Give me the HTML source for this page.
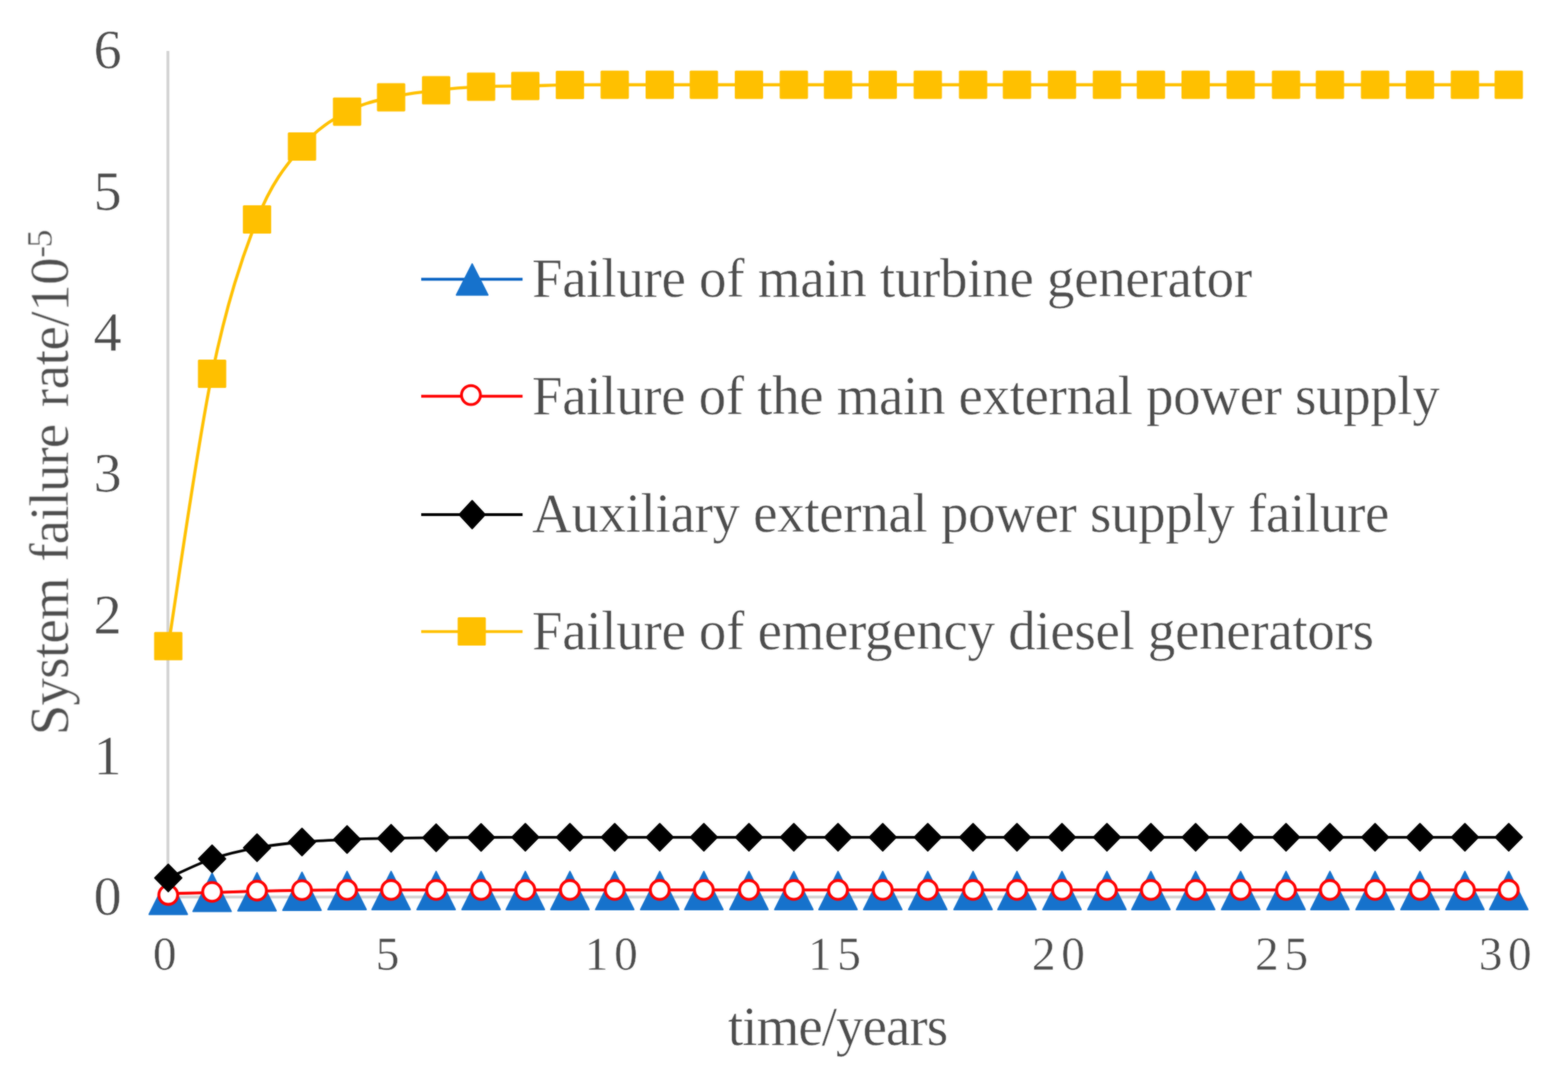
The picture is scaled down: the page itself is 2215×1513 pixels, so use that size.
<!DOCTYPE html>
<html lang="en"><head><meta charset="utf-8"><title>System failure rate over time</title>
<style>
html,body{margin:0;padding:0;background:#fff;}
body{width:2215px;height:1513px;overflow:hidden;}
svg{display:block;}
text{font-family:"Liberation Serif",serif;fill:#4c4c4c;stroke:#fff;stroke-width:0.5px;}
.yt{font-size:79px;text-anchor:middle;}
.xt{font-size:66.7px;}
.lg{font-size:77.5px;}
.ti{font-size:77.5px;}
</style></head><body>
<svg width="2215" height="1513" viewBox="0 0 2215 1513">
<rect width="2215" height="1513" fill="#fff"/>
<defs>
<path id="tri" d="M0 -26.4L27 27.4H-27Z" fill="#1672cc" stroke="#1672cc" stroke-width="2" stroke-linejoin="round"/>
<circle id="cir" r="13.3" fill="#fff" stroke="#ff0000" stroke-width="4.1"/>
<path id="dia" d="M0 -19.3L19 0L0 19.3L-19 0Z" fill="#000000" stroke="#000000" stroke-width="2" stroke-linejoin="round"/>
<rect id="sq" x="-20" y="-20" width="40" height="40" rx="1.6" fill="#ffc000"/>
<filter id="soft" x="0" y="0" width="2215" height="1513" filterUnits="userSpaceOnUse" color-interpolation-filters="sRGB"><feGaussianBlur stdDeviation="1" result="b"/><feComposite in="SourceGraphic" in2="b" operator="arithmetic" k1="0" k2="0.45" k3="0.55" k4="0"/></filter>
</defs>
<g filter="url(#soft)">
<g id="axes" stroke="#d2d2d2" stroke-width="4" fill="none">
<path d="M237.2 1267.2H2131.3"/>
<path d="M237.2 72V1267.2"/>
</g>
<g id="s-blue">
<path d="M237.7 1262.4C248 1262.2 278.7 1261.6 299.6 1261C320.5 1260.4 341.9 1259.5 363.1 1259C384.3 1258.5 405.4 1258.1 426.6 1257.8C447.8 1257.5 469.3 1257.4 490.3 1257.3C511.3 1257.2 531.5 1257.3 552.5 1257.3H616.1H679.6H742.1H805.1H868.4H932H994.3H1058H1121.4H1183.8H1247H1310.6H1374.6H1436.6H1500.2H1563.7H1625.8H1689H1752.6H1816.7H1878.7H1942.5H2005.9H2069.4H2131.3" fill="none" stroke="#0560c2" stroke-width="3" stroke-linecap="round" stroke-linejoin="round"/>
<use href="#tri" x="237.7" y="1264.3"/>
<use href="#tri" x="299.6" y="1260.2"/>
<use href="#tri" x="363.1" y="1259.3"/>
<use href="#tri" x="426.6" y="1258.6"/>
<use href="#tri" x="490.3" y="1257.5"/>
<use href="#tri" x="552.5" y="1257.5"/>
<use href="#tri" x="616.1" y="1257.5"/>
<use href="#tri" x="679.6" y="1257.5"/>
<use href="#tri" x="742.1" y="1257.5"/>
<use href="#tri" x="805.1" y="1257.5"/>
<use href="#tri" x="868.4" y="1257.5"/>
<use href="#tri" x="932" y="1257.5"/>
<use href="#tri" x="994.3" y="1257.5"/>
<use href="#tri" x="1058" y="1257.5"/>
<use href="#tri" x="1121.4" y="1257.5"/>
<use href="#tri" x="1183.8" y="1257.5"/>
<use href="#tri" x="1247" y="1257.5"/>
<use href="#tri" x="1310.6" y="1257.5"/>
<use href="#tri" x="1374.6" y="1257.5"/>
<use href="#tri" x="1436.6" y="1257.5"/>
<use href="#tri" x="1500.2" y="1257.5"/>
<use href="#tri" x="1563.7" y="1257.5"/>
<use href="#tri" x="1625.8" y="1257.5"/>
<use href="#tri" x="1689" y="1257.5"/>
<use href="#tri" x="1752.6" y="1257.5"/>
<use href="#tri" x="1816.7" y="1257.5"/>
<use href="#tri" x="1878.7" y="1257.5"/>
<use href="#tri" x="1942.5" y="1257.5"/>
<use href="#tri" x="2005.9" y="1257.5"/>
<use href="#tri" x="2069.4" y="1257.5"/>
<use href="#tri" x="2131.3" y="1257.5"/>
</g>
<g id="s-red">
<path d="M237.7 1262.4C248 1262.2 278.7 1261.6 299.6 1261C320.5 1260.4 341.9 1259.5 363.1 1259C384.3 1258.5 405.4 1258.1 426.6 1257.8C447.8 1257.5 469.3 1257.4 490.3 1257.3C511.3 1257.2 531.5 1257.3 552.5 1257.3H616.1H679.6H742.1H805.1H868.4H932H994.3H1058H1121.4H1183.8H1247H1310.6H1374.6H1436.6H1500.2H1563.7H1625.8H1689H1752.6H1816.7H1878.7H1942.5H2005.9H2069.4H2131.3" fill="none" stroke="#ff0000" stroke-width="4.1" stroke-linecap="round" stroke-linejoin="round"/>
<use href="#cir" x="237.7" y="1264.3"/>
<use href="#cir" x="299.6" y="1260"/>
<use href="#cir" x="363.1" y="1258.2"/>
<use href="#cir" x="426.6" y="1257.5"/>
<use href="#cir" x="490.3" y="1257.2"/>
<use href="#cir" x="552.5" y="1257.2"/>
<use href="#cir" x="616.1" y="1257.2"/>
<use href="#cir" x="679.6" y="1257.2"/>
<use href="#cir" x="742.1" y="1257.2"/>
<use href="#cir" x="805.1" y="1257.2"/>
<use href="#cir" x="868.4" y="1257.2"/>
<use href="#cir" x="932" y="1257.2"/>
<use href="#cir" x="994.3" y="1257.2"/>
<use href="#cir" x="1058" y="1257.2"/>
<use href="#cir" x="1121.4" y="1257.2"/>
<use href="#cir" x="1183.8" y="1257.2"/>
<use href="#cir" x="1247" y="1257.2"/>
<use href="#cir" x="1310.6" y="1257.2"/>
<use href="#cir" x="1374.6" y="1257.2"/>
<use href="#cir" x="1436.6" y="1257.2"/>
<use href="#cir" x="1500.2" y="1257.2"/>
<use href="#cir" x="1563.7" y="1257.2"/>
<use href="#cir" x="1625.8" y="1257.2"/>
<use href="#cir" x="1689" y="1257.2"/>
<use href="#cir" x="1752.6" y="1257.2"/>
<use href="#cir" x="1816.7" y="1257.2"/>
<use href="#cir" x="1878.7" y="1257.2"/>
<use href="#cir" x="1942.5" y="1257.2"/>
<use href="#cir" x="2005.9" y="1257.2"/>
<use href="#cir" x="2069.4" y="1257.2"/>
<use href="#cir" x="2131.3" y="1257.2"/>
</g>
<g id="s-black">
<path d="M237.7 1240.3C248 1235.8 278.7 1220.3 299.6 1213.2C320.5 1206.1 341.9 1201.5 363.1 1197.6C384.3 1193.6 405.4 1191.5 426.6 1189.5C447.8 1187.5 469.3 1186.8 490.3 1185.9C511.3 1185 531.5 1184.6 552.5 1184.2C573.5 1183.8 594.9 1183.6 616.1 1183.4C637.3 1183.2 658.6 1183.1 679.6 1183C700.6 1182.9 721.2 1182.8 742.1 1182.8H805.1H868.4H932H994.3H1058H1121.4H1183.8H1247H1310.6H1374.6H1436.6H1500.2H1563.7H1625.8H1689H1752.6H1816.7H1878.7H1942.5H2005.9H2069.4H2131.3" fill="none" stroke="#000000" stroke-width="3.8" stroke-linecap="round" stroke-linejoin="round"/>
<use href="#dia" x="237.7" y="1240.3"/>
<use href="#dia" x="299.6" y="1213.2"/>
<use href="#dia" x="363.1" y="1197.6"/>
<use href="#dia" x="426.6" y="1189.5"/>
<use href="#dia" x="490.3" y="1185.9"/>
<use href="#dia" x="552.5" y="1184.2"/>
<use href="#dia" x="616.1" y="1183.4"/>
<use href="#dia" x="679.6" y="1183"/>
<use href="#dia" x="742.1" y="1182.8"/>
<use href="#dia" x="805.1" y="1182.8"/>
<use href="#dia" x="868.4" y="1182.8"/>
<use href="#dia" x="932" y="1182.8"/>
<use href="#dia" x="994.3" y="1182.8"/>
<use href="#dia" x="1058" y="1182.8"/>
<use href="#dia" x="1121.4" y="1182.8"/>
<use href="#dia" x="1183.8" y="1182.8"/>
<use href="#dia" x="1247" y="1182.8"/>
<use href="#dia" x="1310.6" y="1182.8"/>
<use href="#dia" x="1374.6" y="1182.8"/>
<use href="#dia" x="1436.6" y="1182.8"/>
<use href="#dia" x="1500.2" y="1182.8"/>
<use href="#dia" x="1563.7" y="1182.8"/>
<use href="#dia" x="1625.8" y="1182.8"/>
<use href="#dia" x="1689" y="1182.8"/>
<use href="#dia" x="1752.6" y="1182.8"/>
<use href="#dia" x="1816.7" y="1182.8"/>
<use href="#dia" x="1878.7" y="1182.8"/>
<use href="#dia" x="1942.5" y="1182.8"/>
<use href="#dia" x="2005.9" y="1182.8"/>
<use href="#dia" x="2069.4" y="1182.8"/>
<use href="#dia" x="2131.3" y="1182.8"/>
</g>
<g id="s-yellow">
<path d="M237.7 912.8C248 848.7 278.7 628.5 299.6 528C320.5 427.5 341.9 363.5 363.1 310C384.3 256.5 405.4 232.4 426.6 207C447.8 181.6 469.3 169.3 490.3 157.7C511.3 146.1 531.5 142.4 552.5 137.4C573.5 132.4 594.9 130 616.1 127.5C637.3 125 658.6 123.4 679.6 122.4C700.6 121.4 721.2 121.8 742.1 121.4C763 121 784.1 120.2 805.1 119.9C826.1 119.6 847.2 119.7 868.4 119.7H932H994.3H1058H1121.4H1183.8H1247H1310.6H1374.6H1436.6H1500.2H1563.7H1625.8H1689H1752.6H1816.7H1878.7H1942.5H2005.9H2069.4H2131.3" fill="none" stroke="#ffc000" stroke-width="4.4" stroke-linecap="round" stroke-linejoin="round"/>
<use href="#sq" x="237.7" y="912.8"/>
<use href="#sq" x="299.6" y="528"/>
<use href="#sq" x="363.1" y="310"/>
<use href="#sq" x="426.6" y="207"/>
<use href="#sq" x="490.3" y="157.7"/>
<use href="#sq" x="552.5" y="137.4"/>
<use href="#sq" x="616.1" y="127.5"/>
<use href="#sq" x="679.6" y="122.4"/>
<use href="#sq" x="742.1" y="121.4"/>
<use href="#sq" x="805.1" y="119.9"/>
<use href="#sq" x="868.4" y="119.7"/>
<use href="#sq" x="932" y="119.7"/>
<use href="#sq" x="994.3" y="119.7"/>
<use href="#sq" x="1058" y="119.7"/>
<use href="#sq" x="1121.4" y="119.7"/>
<use href="#sq" x="1183.8" y="119.7"/>
<use href="#sq" x="1247" y="119.7"/>
<use href="#sq" x="1310.6" y="119.7"/>
<use href="#sq" x="1374.6" y="119.7"/>
<use href="#sq" x="1436.6" y="119.7"/>
<use href="#sq" x="1500.2" y="119.7"/>
<use href="#sq" x="1563.7" y="119.7"/>
<use href="#sq" x="1625.8" y="119.7"/>
<use href="#sq" x="1689" y="119.7"/>
<use href="#sq" x="1752.6" y="119.7"/>
<use href="#sq" x="1816.7" y="119.7"/>
<use href="#sq" x="1878.7" y="119.7"/>
<use href="#sq" x="1942.5" y="119.7"/>
<use href="#sq" x="2005.9" y="119.7"/>
<use href="#sq" x="2069.4" y="119.7"/>
<use href="#sq" x="2131.3" y="119.7"/>
</g>
<g id="yticks">
<text class="yt" x="152" y="1292.3">0</text>
<text class="yt" x="152" y="1093">1</text>
<text class="yt" x="152" y="893.6">2</text>
<text class="yt" x="152" y="694.2">3</text>
<text class="yt" x="152" y="494.9">4</text>
<text class="yt" x="152" y="295.5">5</text>
<text class="yt" x="152" y="96.2">6</text>
</g>
<g id="xticks">
<text class="xt" x="236.7" y="1370" text-anchor="middle" letter-spacing="8">0</text>
<text class="xt" x="551.5" y="1370" text-anchor="middle" letter-spacing="8">5</text>
<text class="xt" x="867.4" y="1370" text-anchor="middle" letter-spacing="8">10</text>
<text class="xt" x="1182.8" y="1370" text-anchor="middle" letter-spacing="8">15</text>
<text class="xt" x="1499.2" y="1370" text-anchor="middle" letter-spacing="8">20</text>
<text class="xt" x="1814.4" y="1370" text-anchor="middle" letter-spacing="8">25</text>
<text class="xt" x="2130.3" y="1370" text-anchor="middle" letter-spacing="8">30</text>
</g>
<text class="ti" x="1183.2" y="1475.5" text-anchor="middle" letter-spacing="-1.3">time/years</text>
<text class="ti" transform="translate(95.7 1038.7) rotate(-90)"><tspan x="0" letter-spacing="-1.04">System </tspan><tspan x="245.2" letter-spacing="-1.25">failure </tspan><tspan x="463.5" letter-spacing="-0.6">rate/10</tspan><tspan x="674.5" dy="-23" font-size="51">-</tspan><tspan x="689" font-size="51">5</tspan></text>
<g id="legend">
<path d="M595 394.5H738.2" stroke="#0560c2" stroke-width="4.1" fill="none"/>
<path d="M667 372.9L689.2 416.8H644.8Z" fill="#1672cc" stroke="#1672cc" stroke-width="2" stroke-linejoin="round"/>
<text class="lg" x="751.6" y="419.4" letter-spacing="-0.36">Failure of main turbine generator</text>
<path d="M595 559.7H738.2" stroke="#ff0000" stroke-width="4.1" fill="none"/>
<circle cx="665.3" cy="558.1" r="13.4" fill="#fff" stroke="#ff0000" stroke-width="4"/>
<text class="lg" x="751.6" y="585.2" letter-spacing="-0.44">Failure of the main external power supply</text>
<path d="M595 727H738.2" stroke="#000000" stroke-width="4.1" fill="none"/>
<path d="M667 707.2L685.3 727L667 746.8L648.7 727Z" fill="#000000" stroke="#000000" stroke-width="2" stroke-linejoin="round"/>
<text class="lg" x="751.6" y="751" letter-spacing="-0.41">Auxiliary external power supply failure</text>
<path d="M595 892.3H738.2" stroke="#ffc000" stroke-width="4.1" fill="none"/>
<rect x="646.5" y="872" width="39.8" height="40" rx="1.6" fill="#ffc000"/>
<text class="lg" x="751.6" y="917.2" letter-spacing="-0.39">Failure of emergency diesel generators</text>
</g>
</g>
</svg>
</body></html>
